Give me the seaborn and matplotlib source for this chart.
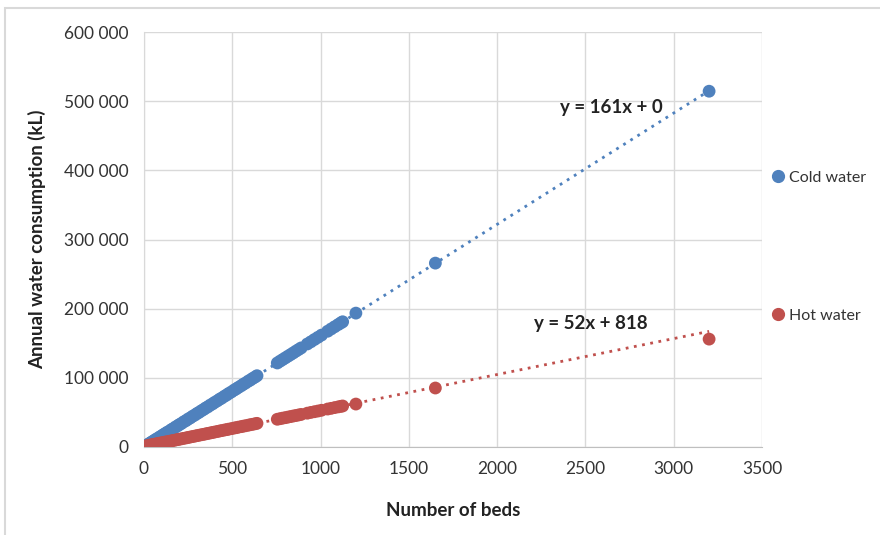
import numpy as np
import pandas as pd
import seaborn as sns
import matplotlib.pyplot as plt
from matplotlib.patches import Rectangle
from matplotlib.lines import Line2D
from matplotlib.ticker import FuncFormatter

beds = [2, 10, 18, 25, 33, 40, 48, 55, 63, 70, 80, 90, 100, 110, 120, 130, 142, 155, 165,
        178, 190, 200, 212, 225, 238, 250, 262, 275, 288, 300, 312, 325, 338, 350, 362,
        375, 388, 400, 415, 428, 440, 455, 468, 480, 495, 510, 522, 535, 550, 562, 575,
        590, 602, 615, 628, 640,
        755, 770, 785, 800, 815, 830, 845, 860, 875, 890, 925, 945, 965, 985, 1005,
        1040, 1060, 1080, 1100, 1115, 1125, 1200, 1650, 3200]

cold_water = [350, 1550, 2950, 4100, 5250, 6500, 7700, 8900, 10100, 11400, 12800, 14600,
              16000, 17900, 19200, 21100, 22700, 25100, 26400, 28800, 30500, 32300, 34000,
              36400, 38100, 40400, 42000, 44400, 46200, 48400, 50100, 52400, 54300, 56500,
              58100, 60500, 62300, 64500, 66700, 69000, 70700, 73300, 75200, 77400, 79600,
              82200, 84000, 86200, 88500, 90600, 92500, 95100, 96800, 99100, 101000, 103100,
              121500, 124000, 126400, 128800, 131200, 133600, 136000, 138500, 140900, 143300,
              149000, 152100, 155400, 158600, 161800, 167400, 170700, 173900, 177100,
              179500, 181100, 193600, 265900, 514500]

hot_water = [900, 1300, 1800, 2100, 2600, 2900, 3400, 3700, 4100, 4500, 5000, 5600, 6000,
             6600, 7100, 7500, 8200, 8800, 9400, 10000, 10700, 11200, 11800, 12500, 13100,
             13800, 14400, 15100, 15700, 16400, 17000, 17700, 18300, 19000, 19600, 20300,
             21000, 21600, 22400, 23100, 23700, 24500, 25100, 25800, 26500, 27400, 27900,
             28700, 29400, 30100, 30700, 31500, 32200, 32800, 33500, 34200,
             40100, 40900, 41700, 42400, 43200, 44000, 44800, 45500, 46300, 47100,
             48900, 50000, 51000, 52000, 53100, 54900, 55900, 57000, 58000, 58800, 59300,
             62100, 85300, 156000]

series = ["Cold water", "Hot water"]
slopes = [161, 52]
intercepts = [0, 818]
trend_labels = ["y = 161x + 0", "y = 52x + 818"]
colors = ["#4F81BD", "#C0504D"]

df = pd.DataFrame({
    "beds": beds * 2,
    "kL": cold_water + hot_water,
    "series": [series[0]] * len(beds) + [series[1]] * len(beds),
})

sns.set_style("white")
plt.rcParams["font.family"] = ["Lato", "DejaVu Sans"]

fig = plt.figure(figsize=(8.8, 5.35), dpi=100)
ax = fig.add_axes([0.1636, 0.1645, 0.7024, 0.7755])

# trend lines first, points on top
x_line = np.array([0, 3200])
for m, b, c in zip(slopes, intercepts, colors):
    ax.plot(x_line, m * x_line + b, linestyle=(0, (1, 2)), color=c, linewidth=2, zorder=2)

sns.scatterplot(data=df, x="beds", y="kL", hue="series", palette=colors,
                s=85, edgecolor="none", linewidth=0, ax=ax, legend=False, zorder=3)

ax.text(2645, 491000, trend_labels[0], fontsize=13.5, fontweight="bold", ha="center", va="center",
        color="#222222")
ax.text(2530, 179000, trend_labels[1], fontsize=13.5, fontweight="bold", ha="center", va="center",
        color="#222222")

ax.set_xlim(0, 3500)
ax.set_ylim(0, 600000)
ax.set_xticks(range(0, 3501, 500))
ax.set_yticks(range(0, 600001, 100000))
ax.yaxis.set_major_formatter(FuncFormatter(lambda v, p: f"{int(v):,}".replace(",", " ")))
ax.grid(True, color="#D9D9D9", linewidth=1)
ax.set_axisbelow(True)
for side in ["top", "right"]:
    ax.spines[side].set_visible(False)
ax.spines["left"].set_color("#D9D9D9")
ax.spines["bottom"].set_color("#BFBFBF")
ax.tick_params(axis="both", labelsize=12.5, length=4, width=1, direction="out")
ax.tick_params(axis="x", colors="#BFBFBF", labelcolor="#333333", pad=6)
ax.tick_params(axis="y", colors="#BFBFBF", labelcolor="#333333", pad=7)

ax.set_xlabel("Number of beds", fontsize=13.5, fontweight="bold", labelpad=18, color="#222222")
ax.set_ylabel("Annual water consumption (kL)", fontsize=13.5, fontweight="bold", labelpad=13,
              color="#222222")

handles = [Line2D([], [], marker="o", linestyle="none", color=c, markersize=8.5) for c in colors]
leg = fig.legend(handles, series, loc="upper left", bbox_to_anchor=(0.857, 0.708),
                 frameon=False, fontsize=11.5, labelspacing=7.75, handletextpad=0.1,
                 handlelength=1.2)
for t in leg.get_texts():
    t.set_color("#333333")

fig.patches.append(Rectangle((0.006, -0.1), 1.1, 1.085, transform=fig.transFigure,
                             fill=False, edgecolor="#D9D9D9", linewidth=1.5))

fig.savefig("out.png", dpi=100)
